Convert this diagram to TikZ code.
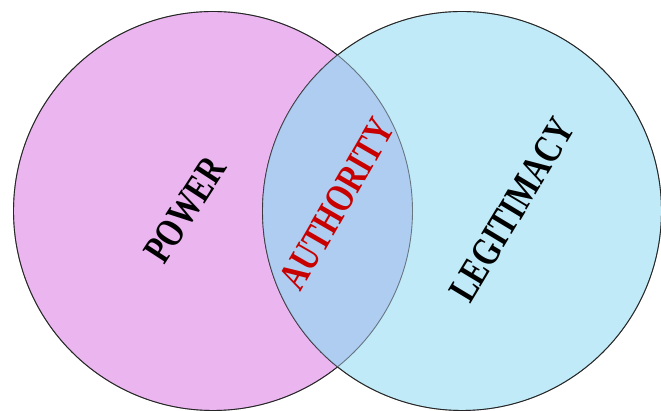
\documentclass[tikz,border=0pt]{standalone}
\usepackage{fontspec}
\setmainfont{Liberation Serif}
\usepackage{tikz}
\usetikzlibrary{positioning}

\definecolor{powerpink}{RGB}{235,181,239}
\definecolor{legitblue}{RGB}{192,234,247}
\definecolor{authblue}{RGB}{171,200,240}
\definecolor{authred}{RGB}{200,0,0}

\begin{document}
\begin{tikzpicture}[
      set/.style={draw=black!85, line width=0.9pt},
      word/.style={font=\fontsize{40}{42}\selectfont\bfseries, inner sep=0pt},
      x=1pt, y=1pt
    ]
    \useasboundingbox (0,0) rectangle (661,411);
    \fill[white] (0,0) rectangle (661,411);
    % the two sets
    \coordinate (cp) at (213,200);
    \coordinate (cl) at (462,200);
    \filldraw[set, fill=powerpink] (cp) circle (199.5);
    \filldraw[set, fill=legitblue] (cl) circle (199.5);
    % overlap
    \begin{scope}
      \clip (cp) circle (199.5);
      \fill[authblue, opacity=0.85] (cl) circle (199.5);
    \end{scope}
    \draw[set, draw opacity=0.55] (cp) circle (199.5) (cl) circle (199.5);

    \node[word, rotate=57] (power) at (185,201) {\scalebox{0.77}[1]{POWER}};
    \node[word, rotate=60, text=authred] (authority) at (337,207) {\scalebox{0.77}[1]{AUTHORITY}};
    \node[word, rotate=59] (legitimacy) at (512,201) {\scalebox{0.77}[1]{LEGITIMACY}};
  \end{tikzpicture}
\end{document}
